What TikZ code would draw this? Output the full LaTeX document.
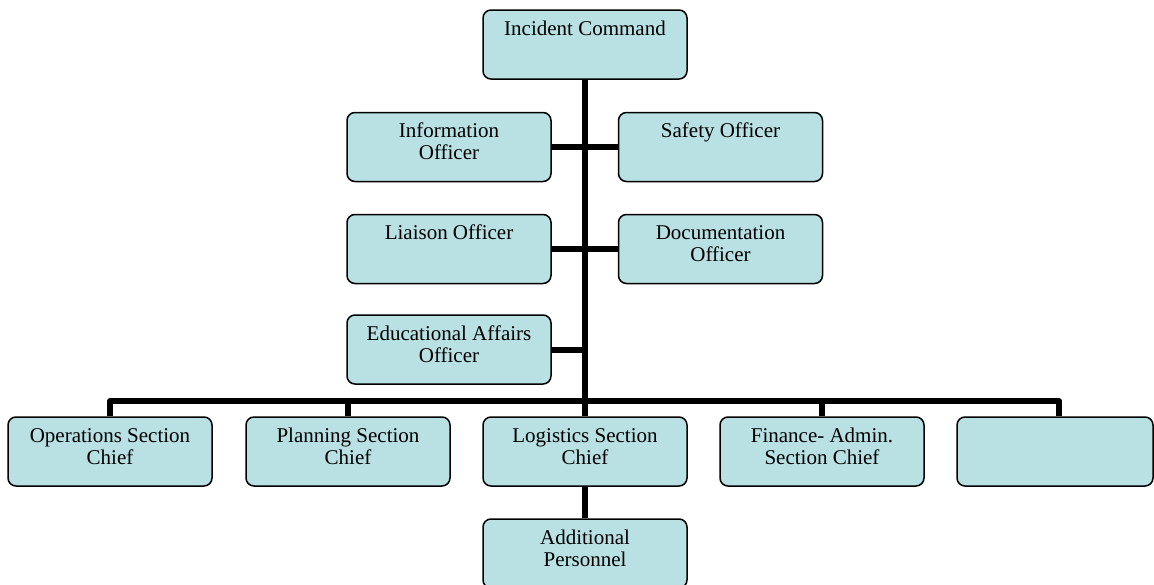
\documentclass[tikz,border=0pt]{standalone}
\usepackage{fontspec}
\setmainfont{Liberation Serif}
\definecolor{boxfill}{RGB}{185,224,227}
\newcommand\boxfont{\fontsize{21pt}{22pt}\selectfont}
\newcommand\boxtext[2][200pt]{\parbox[c][69pt][t]{#1}{\centering\rule{0pt}{25pt}#2}}
\tikzset{
  box/.style={draw=black, line width=1.5pt, fill=boxfill, rounded corners=8pt,
    inner sep=0pt, minimum width=204pt, minimum height=69pt, font=\boxfont},
  conn/.style={line width=6pt, line join=round}
}
\begin{document}
\begin{tikzpicture}[x=1pt,y=-1pt]
\useasboundingbox (0,0) rectangle (1154,584);
\fill[white] (0,0) rectangle (1154,584);
\clip (0,0) rectangle (1154,584);
% nodes
\node[box] (ic)     at (585,44.5)  {\boxtext{Incident Command}};
\node[box] (info)   at (449,147)   {\boxtext{Information\\Officer}};
\node[box] (safety) at (720.5,147) {\boxtext{Safety Officer}};
\node[box] (liaison) at (449,249)  {\boxtext{Liaison Officer}};
\node[box] (doc)    at (720.5,249) {\boxtext{Documentation\\Officer}};
\node[box] (edu)    at (449,349.5) {\boxtext{Educational Affairs\\Officer}};
\node[box] (ops)    at (110,451.5) {\boxtext{Operations Section\\Chief}};
\node[box] (plan)   at (348,451.5) {\boxtext{Planning Section\\Chief}};
\node[box] (log)    at (585,451.5) {\boxtext{Logistics Section\\Chief}};
\node[box] (fin)    at (822,451.5) {\boxtext{Finance- Admin.\\Section Chief}};
\node[box, minimum width=196pt] (blank) at (1055,451.5) {\boxtext[190pt]{}};
\node[box] (add)    at (585,553.5) {\boxtext{Additional\\Personnel}};
\coordinate (busR) at (1059,401);
% connectors
\draw[conn] (ic.south) -- (log.north);
\draw[conn] (info.east) -- (safety.west);
\draw[conn] (liaison.east) -- (doc.west);
\draw[conn] (edu.east) -- (edu.east -| ic.south);
\draw[conn] (ops.north) |- (busR) -- (busR |- blank.north);
\draw[conn] (plan.north) -- (plan.north |- busR);
\draw[conn] (fin.north) -- (fin.north |- busR);
\draw[conn] (log.south) -- (add.north);
\end{tikzpicture}
\end{document}
